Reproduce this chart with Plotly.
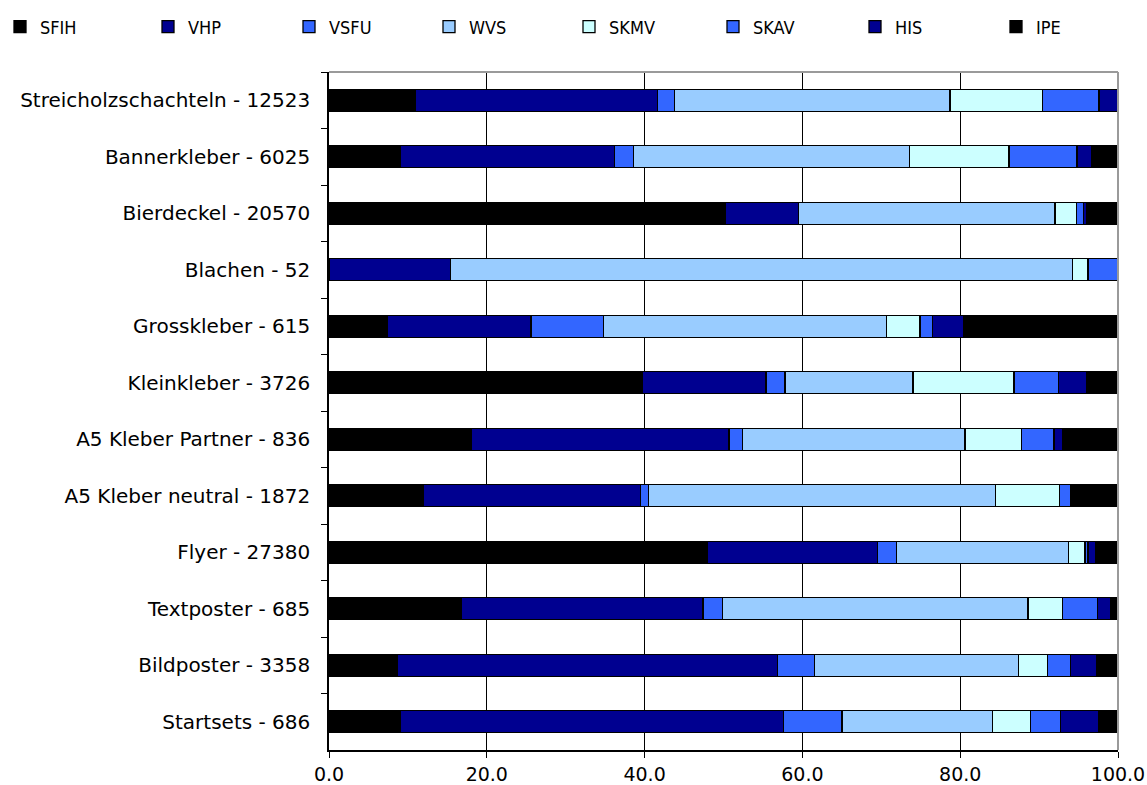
import plotly.graph_objects as go

categories = [
    "Streicholzschachteln - 12523",
    "Bannerkleber - 6025",
    "Bierdeckel - 20570",
    "Blachen - 52",
    "Grosskleber - 615",
    "Kleinkleber - 3726",
    "A5 Kleber Partner - 836",
    "A5 Kleber neutral - 1872",
    "Flyer - 27380",
    "Textposter - 685",
    "Bildposter - 3358",
    "Startsets - 686",
]

SFIH = [10.9, 9.1, 50.2, None, 7.4, 39.7, 18.0, 11.9, 48.0, 16.8, 8.6, 9.1]
VHP = [30.7, 27.1, 9.3, 15.4, 18.2, 15.7, 32.7, 27.6, 21.5, 30.6, 48.2, 48.5]
VSFU = [2.2, 2.4, None, None, 9.2, 2.4, 1.7, 1.0, 2.4, 2.5, 4.7, 7.4]
WVS = [34.9, 35.0, 32.5, 78.8, 35.9, 16.2, 28.2, 44.0, 21.8, 38.7, 25.9, 19.1]
SKMV = [11.7, 12.6, 2.7, 2.0, 4.2, 12.8, 7.2, 8.1, 2.1, 4.4, 3.7, 4.8]
SKAV = [7.2, 8.6, 0.9, 3.8, 1.6, 5.7, 4.1, 1.4, 0.4, 4.4, 2.9, 3.8]
HIS = [2.4, 1.8, 0.4, None, 3.9, 3.5, 1.1, None, 1.0, 1.7, 3.3, 4.9]
IPE = [None, 3.4, 4.0, None, 19.6, 4.0, 7.0, 6.0, 2.8, 0.9, 2.7, 2.4]

series_names = ["SFIH", "VHP", "VSFU", "WVS", "SKMV", "SKAV", "HIS", "IPE"]
series_values = [SFIH, VHP, VSFU, WVS, SKMV, SKAV, HIS, IPE]
series_colors = ["#000000", "#000090", "#3366FF", "#99CCFF", "#CCFFFF", "#3366FF", "#000090", "#000000"]

x_ticks = [0, 20, 40, 60, 80, 100]

W, H = 1147, 785
# left pixel of each legend marker in the reference
legend_px = [10, 162, 303, 443, 583, 727, 869, 1010]

fig = go.Figure()
legend_layout = {}
for i, (name, vals, col) in enumerate(zip(series_names, series_values, series_colors)):
    lname = "legend" if i == 0 else f"legend{i + 1}"
    fig.add_trace(go.Bar(
        name=name, y=categories, x=vals, orientation="h",
        marker=dict(color=col, line=dict(color="#000000", width=1.3)),
        legend=lname,
    ))
    legend_layout[lname] = dict(
        xref="container", yref="container",
        x=max(legend_px[i] - 14, 0) / W, xanchor="left",
        y=1 - 27 / H, yanchor="middle",
        orientation="h", itemwidth=30,
        font=dict(family="DejaVu Sans Condensed, Liberation Sans Narrow, DejaVu Sans, sans-serif",
                  size=18, color="#000000"),
        bgcolor="rgba(0,0,0,0)", borderwidth=0,
    )

fig.update_layout(
    barmode="stack",
    bargap=0.61,
    width=W, height=H,
    margin=dict(l=329, r=29, t=72, b=35, autoexpand=False),
    paper_bgcolor="white", plot_bgcolor="white",
    font=dict(family="Verdana, DejaVu Sans, sans-serif", size=19, color="#000000"),
    showlegend=True,
    xaxis=dict(
        range=[0, 100], tickvals=x_ticks, tickformat=".1f",
        showgrid=True, gridcolor="#000000", gridwidth=1,
        showline=True, linecolor="#000000", linewidth=1.5,
        ticks="outside", ticklen=6, tickcolor="#000000",
        tickfont=dict(size=19),
        zeroline=False, fixedrange=True,
    ),
    yaxis=dict(
        categoryorder="array", categoryarray=categories,
        autorange="reversed",
        showgrid=False, showline=True, linecolor="#000000", linewidth=1.5,
        ticks="outside", tickson="boundaries", ticklen=6, tickcolor="#000000",
        ticklabelstandoff=13, tickfont=dict(size=20),
        zeroline=False, fixedrange=True,
    ),
    **legend_layout,
)

# gray plot-area frame on top and right
fig.add_shape(type="line", xref="x domain", yref="y domain", x0=0, x1=1, y0=1, y1=1,
              line=dict(color="#9a9a9a", width=2))
fig.add_shape(type="line", xref="x domain", yref="y domain", x0=1, x1=1, y0=0, y1=1,
              line=dict(color="#9a9a9a", width=2))

fig.write_html(
    "out.html",
    config={"displayModeBar": False},
    post_script="document.body.style.margin='0';document.body.style.overflow='hidden';",
)
